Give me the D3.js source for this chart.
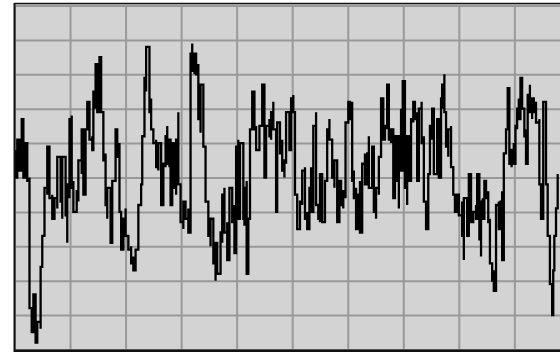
<!DOCTYPE html>
<html>
<head>
<meta charset="utf-8">
<script src="https://cdn.jsdelivr.net/npm/d3@7"></script>
<style>
  html, body { margin: 0; padding: 0; background: #ffffff; }
  svg { display: block; }
</style>
</head>
<body>
<svg id="chart" width="560" height="352"></svg>
<script>
// Sampled signal, one bucket per entry: bucket time, max level, min level
const sampleTime = [
  0.2, 0.5, 0.9, 1.3, 1.6, 2.0, 2.3, 2.7, 3.1, 3.4, 3.8, 4.1, 4.7, 5.0, 5.4, 5.9, 6.3, 6.8, 7.2, 7.7,
  8.3, 8.6, 9.2, 9.5, 9.9, 10.3, 10.6, 11.2, 11.5, 12.1, 12.4, 12.8, 13.1, 13.5, 14.0, 14.2, 14.6, 14.9, 15.3, 15.6,
  16.0, 16.4, 16.7, 17.3, 17.6, 18.2, 18.5, 18.9, 19.2, 19.6, 20.0, 20.5, 21.0, 21.4, 21.8, 22.3, 22.8, 23.0, 23.4, 23.7,
  24.3, 24.6, 25.0, 25.5, 25.9, 26.4, 26.8, 27.2, 27.5, 27.9, 28.1, 28.4, 28.8, 29.1, 29.5, 29.9, 30.4, 30.8, 31.3, 31.7,
  32.0, 32.4, 32.7, 33.1, 33.5, 34.0, 34.4, 34.9, 35.3, 35.8, 36.2, 36.5, 37.1, 37.4, 37.8, 38.3, 38.7, 39.2, 39.6, 39.9,
  40.3, 40.6, 41.2, 41.4, 41.8, 42.1, 42.4, 42.8, 43.2, 43.5, 44.1, 44.6, 45.0, 45.3, 45.9, 46.2, 46.6, 47.1, 47.3, 47.8,
  48.2, 48.6, 48.9, 49.5, 49.8, 50.2, 50.5, 50.9, 51.4, 51.8, 52.3, 52.7, 53.1, 53.4, 53.8, 54.3, 54.7, 55.0, 55.4, 55.9,
  56.3, 56.7, 57.2, 57.6, 58.1, 58.5, 58.8, 59.2, 59.6, 60.1, 60.4, 60.8, 61.1, 61.5, 61.9, 62.2, 62.6, 63.1, 63.5, 63.8,
  64.4, 64.7, 65.1, 65.6, 66.0, 66.4, 66.7, 67.1, 67.4, 67.8, 68.2, 68.5, 68.9, 69.2, 69.6, 69.9, 70.3, 70.7, 71.0, 71.4,
  71.8, 72.1, 72.5, 72.8, 73.3, 73.7, 74.1, 74.5, 74.8, 75.2, 75.5, 76.1, 76.4, 76.8, 77.0, 77.4, 77.7, 78.1, 78.6, 79.0,
  79.3, 79.7, 80.0, 80.6, 80.9, 81.5, 81.8, 82.2, 82.6, 83.1, 83.3, 83.7, 84.0, 84.3, 84.6, 84.9, 85.3, 85.6, 86.0, 86.3,
  86.7, 87.2, 87.5, 87.8, 88.1, 88.5, 88.8, 89.1, 89.5, 89.9, 90.2, 90.5, 90.8, 91.1, 91.4, 91.8, 92.1, 92.4, 92.8, 93.2,
  93.5, 93.9, 94.5, 94.8, 95.2, 95.7, 96.0, 96.4, 96.8, 97.0, 97.2, 97.5, 97.8
];
const sampleMax = [
  58, 61, 60, 67, 64, 60, 58, 50, 12, 16, 9, 8, 24, 33, 47, 59, 56, 45, 44, 56,
  55, 56, 48, 48, 67, 68, 49, 46, 55, 64, 64, 64, 72, 69, 62, 75, 83, 78, 85, 84,
  69, 57, 47, 42, 49, 64, 60, 60, 40, 38, 41, 33, 30, 27, 29, 42, 48, 62, 79, 88,
  75, 73, 64, 61, 60, 53, 54, 62, 65, 61, 60, 60, 59, 61, 69, 47, 43, 41, 41, 86,
  89, 86, 85, 83, 77, 67, 59, 43, 38, 38, 31, 25, 34, 45, 47, 37, 47, 46, 42, 59,
  61, 60, 60, 47, 49, 38, 64, 75, 70, 65, 65, 77, 65, 65, 67, 69, 72, 62, 66, 61,
  61, 55, 69, 69, 73, 74, 63, 45, 43, 52, 53, 40, 47, 53, 65, 69, 42, 51, 51, 49,
  64, 67, 57, 55, 50, 49, 46, 46, 66, 72, 70, 72, 52, 47, 45, 49, 54, 57, 57, 62,
  59, 44, 47, 56, 73, 69, 65, 77, 70, 64, 61, 62, 61, 62, 70, 78, 58, 62, 60, 67,
  72, 70, 69, 70, 72, 62, 43, 51, 65, 70, 64, 67, 67, 73, 77, 80, 69, 64, 65, 53,
  45, 45, 43, 43, 44, 41, 51, 38, 40, 42, 51, 41, 43, 44, 49, 49, 46, 38, 25, 23,
  42, 43, 43, 46, 57, 64, 76, 65, 58, 60, 65, 70, 73, 79, 76, 70, 64, 74, 77, 73,
  73, 72, 67, 48, 72, 55, 48, 33, 19, 23, 33, 41, 51
];
const sampleMin = [
  50, 50, 52, 55, 50, 52, 49, 12, 5, 8, 2, 2, 6, 24, 33, 45, 44, 38, 39, 41,
  43, 38, 39, 31, 44, 47, 40, 43, 43, 51, 45, 51, 65, 61, 58, 69, 70, 69, 70, 69,
  55, 42, 38, 31, 40, 52, 56, 40, 29, 32, 33, 29, 25, 23, 26, 29, 44, 48, 62, 75,
  69, 64, 60, 53, 52, 42, 50, 53, 54, 53, 42, 52, 47, 45, 48, 37, 35, 38, 34, 41,
  81, 80, 80, 67, 63, 59, 43, 33, 30, 25, 20, 22, 24, 31, 34, 26, 38, 37, 28, 37,
  38, 44, 38, 36, 22, 29, 38, 64, 64, 58, 60, 65, 50, 62, 62, 61, 64, 40, 54, 57,
  52, 50, 54, 58, 67, 69, 45, 35, 38, 42, 38, 35, 37, 40, 53, 42, 38, 37, 37, 42,
  49, 61, 50, 47, 37, 41, 42, 41, 44, 67, 67, 49, 44, 35, 37, 34, 47, 48, 49, 47,
  52, 40, 38, 45, 65, 61, 61, 64, 61, 60, 44, 52, 49, 41, 52, 58, 47, 42, 49, 59,
  66, 67, 49, 66, 60, 43, 35, 46, 52, 61, 51, 59, 50, 66, 70, 69, 59, 56, 53, 45,
  40, 41, 39, 33, 26, 33, 37, 37, 37, 38, 38, 32, 27, 38, 41, 44, 37, 25, 20, 17,
  23, 35, 35, 26, 46, 57, 64, 54, 53, 54, 56, 64, 67, 69, 70, 62, 54, 69, 69, 67,
  69, 66, 48, 38, 52, 48, 33, 19, 10, 14, 23, 33, 41
];

// Grid divisions on both axes
const timeGrid = [0, 10, 20, 30, 40, 50, 60, 70, 80, 90, 100];
const levelGrid = [0, 10, 20, 30, 40, 50, 60, 70, 80, 90, 100];

const svg = d3.select("#chart");
const plotLeft = 14.5, plotTop = 5.6, plotW = 555.4, plotH = 343.8;

const x = d3.scaleLinear().domain([0, 100]).range([plotLeft, plotLeft + plotW]);
const y = d3.scaleLinear().domain([0, 100]).range([plotTop + plotH, plotTop]);

svg.append("defs").append("clipPath").attr("id", "plotClip")
  .append("rect").attr("x", plotLeft).attr("y", plotTop - 2).attr("width", 560 - plotLeft).attr("height", plotH + 2);

// panel background
svg.append("rect")
  .attr("x", plotLeft).attr("y", plotTop - 2)
  .attr("width", 560 - plotLeft).attr("height", plotH + 2)
  .attr("fill", "#d3d3d3");

// grid lines from axes with blank labels
const gridV = svg.append("g")
  .attr("transform", `translate(0,${plotTop + plotH})`)
  .call(d3.axisBottom(x).tickValues(timeGrid).tickSize(-plotH).tickFormat(""));
const gridH = svg.append("g")
  .attr("transform", `translate(${plotLeft},0)`)
  .call(d3.axisLeft(y).tickValues(levelGrid).tickSize(-plotW).tickFormat(""));
[gridV, gridH].forEach(g => {
  g.select(".domain").remove();
  g.selectAll(".tick line").attr("stroke", "#999999").attr("stroke-width", 2);
});

// build the trace: each bucket contributes its max and min, ordered to follow the previous point
const points = [];
let prevLevel = null;
sampleTime.forEach((t, i) => {
  const hi = sampleMax[i], lo = sampleMin[i];
  const pair = (prevLevel === null || Math.abs(prevLevel - hi) <= Math.abs(prevLevel - lo)) ? [hi, lo] : [lo, hi];
  pair.forEach(v => points.push([t, v]));
  prevLevel = pair[1];
});

svg.append("g").attr("clip-path", "url(#plotClip)")
  .append("path")
  .datum(points)
  .attr("fill", "none")
  .attr("stroke", "#000000")
  .attr("stroke-width", 2.3)
  .attr("stroke-linejoin", "miter")
  .attr("d", d3.line().curve(d3.curveStepAfter).x(d => x(d[0])).y(d => y(d[1])));

// frame: left, top and bottom edges
svg.append("line").attr("x1", plotLeft).attr("x2", plotLeft).attr("y1", plotTop - 2.5).attr("y2", 352)
  .attr("stroke", "#111").attr("stroke-width", 2);
svg.append("line").attr("x1", plotLeft).attr("x2", 560).attr("y1", plotTop - 2).attr("y2", plotTop - 2)
  .attr("stroke", "#111").attr("stroke-width", 1.5);
svg.append("line").attr("x1", plotLeft).attr("x2", 560).attr("y1", 351).attr("y2", 351)
  .attr("stroke", "#111").attr("stroke-width", 3);
</script>
</body>
</html>
